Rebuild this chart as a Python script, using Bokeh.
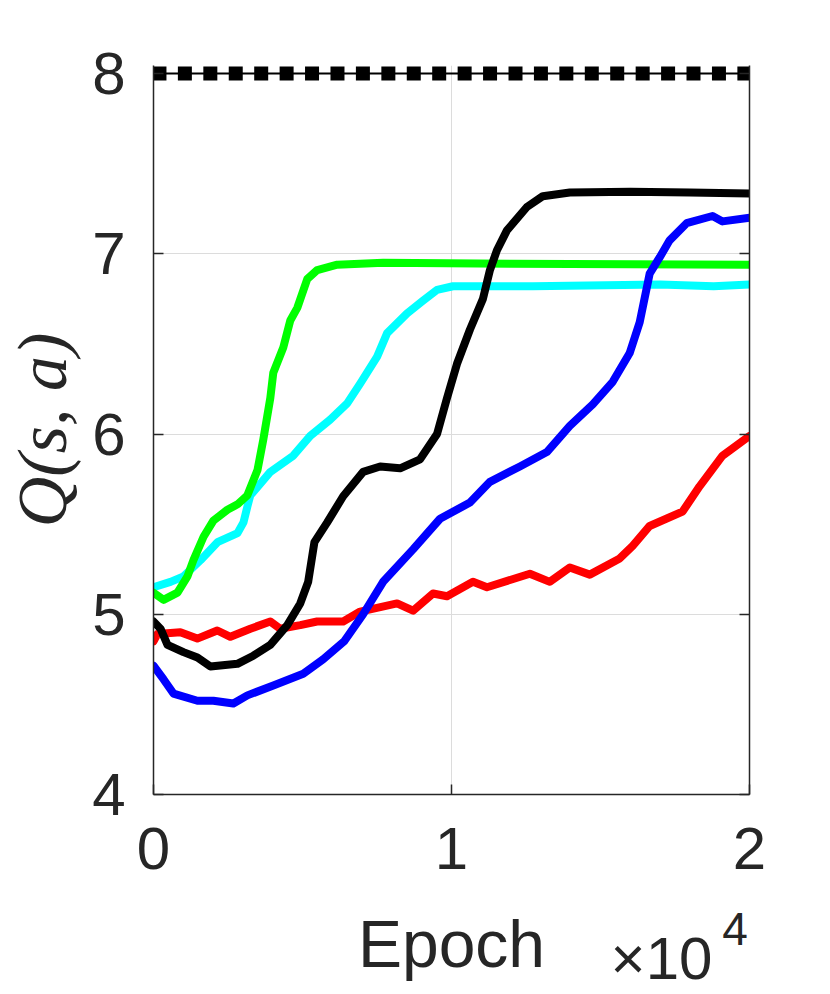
from bokeh.plotting import figure
from bokeh.models import FixedTicker, LinearAxis, Range1d
from bokeh.embed import file_html
from bokeh.resources import INLINE

# ---- data ----
red_x = [0, 130, 900, 1470, 2140, 2580, 3250, 3920, 4250, 4925, 5490, 6365, 6935, 8174, 8710, 9380, 9850,
         10720, 11190, 12630, 13300, 13970, 14640, 15645, 16080, 16650, 17755, 18325, 19095, 20000]
red_y = [4.85, 4.89, 4.90, 4.865, 4.91, 4.875, 4.92, 4.96, 4.92, 4.94, 4.96, 4.96, 5.015, 5.06, 5.02, 5.115, 5.10,
         5.18, 5.15, 5.225, 5.18, 5.26, 5.22, 5.31, 5.38, 5.49, 5.57, 5.71, 5.88, 5.99]

blue_x = [0, 335, 670, 1474, 2010, 2680, 3150, 4020, 5025, 5695, 6400, 7035, 7705, 8710, 9615, 10620, 11290,
          12295, 13200, 13970, 14740, 15410, 15980, 16315, 16650, 16985, 17320, 17890, 18760, 19095, 20000]
blue_y = [4.715, 4.64, 4.56, 4.52, 4.52, 4.505, 4.55, 4.605, 4.67, 4.75, 4.85, 5.00, 5.18, 5.36, 5.53, 5.62, 5.735,
          5.82, 5.90, 6.045, 6.165, 6.29, 6.45, 6.62, 6.89, 6.98, 7.075, 7.17, 7.21, 7.18, 7.20]

black_x = [0, 235, 470, 1005, 1474, 1910, 2815, 3350, 3920, 4490, 4925, 5190, 5400, 5830, 6365, 7035, 7605, 8275,
           8945, 9515, 9850, 10185, 10620, 11055, 11290, 11525, 11860, 12530, 13065, 13970, 16000, 18000, 20000]
black_y = [4.96, 4.92, 4.83, 4.79, 4.76, 4.71, 4.725, 4.77, 4.83, 4.94, 5.06, 5.18, 5.40, 5.51, 5.655, 5.79, 5.82, 5.81,
           5.86, 6.00, 6.20, 6.39, 6.58, 6.75, 6.91, 7.02, 7.13, 7.26, 7.32, 7.34, 7.345, 7.34, 7.335]

cyan_x = [0, 570, 1007, 1577, 2148, 2819, 3020, 3154, 3250, 3920, 4690, 5260, 5930, 6500, 6935, 7505, 7840, 8510,
          9045, 9515, 10050, 12730, 17000, 18800, 20000]
cyan_y = [5.15, 5.18, 5.21, 5.30, 5.40, 5.45, 5.51, 5.60, 5.66, 5.79, 5.88, 5.99, 6.08, 6.17, 6.28, 6.43, 6.56, 6.67,
          6.74, 6.80, 6.82, 6.82, 6.83, 6.82, 6.83]

green_x = [0, 335, 805, 1140, 1340, 1680, 2010, 2480, 2820, 3150, 3490, 3685, 3920, 4020, 4355, 4590, 4825, 5160,
           5495, 6165, 7705, 12000, 20000]
green_y = [5.12, 5.08, 5.12, 5.21, 5.30, 5.43, 5.52, 5.58, 5.61, 5.66, 5.80, 5.97, 6.20, 6.34, 6.48, 6.63, 6.70, 6.86,
           6.91, 6.94, 6.95, 6.945, 6.94]

bound_value = 8
bound_line_x = [0, 20000]
bound_marker_x = [200, 1053, 1907, 2760, 3614, 4467, 5320, 6174, 7027, 7881, 8734, 9587, 10441, 11294,
                  12148, 13001, 13854, 14708, 15561, 16415, 17268, 18121, 18975, 19828]

x_ticks = [0, 10000, 20000]
x_tick_labels = {0: "0", 10000: "1", 20000: "2"}
y_ticks = [4, 5, 6, 7, 8]
x_label = "Epoch"
x_scale_text = "\u00d710"
x_scale_exp = "4"
y_label = "Q(s, a)"

# horizontal anchors (in x units) of the texts under the axis
X_LABEL_AT = 10000
X_SCALE_AT = 17047
X_EXP_AT = 19513

TXT = "#262626"
W, H = 820, 994

p = figure(width=W, height=H, output_backend="svg", toolbar_location=None,
           x_range=Range1d(0, 20000), y_range=Range1d(4, 8.045),
           min_border_left=153, min_border_right=71, min_border_top=65,
           min_border_bottom=H - 795)
p.outline_line_color = None

for ax in (p.xaxis[0], p.yaxis[0]):
    ax.major_tick_in = 10
    ax.major_tick_out = 0
    ax.minor_tick_line_color = None
    ax.axis_line_color = TXT
    ax.axis_line_width = 1.5
    ax.major_tick_line_color = TXT
    ax.major_tick_line_width = 1.5
    ax.major_label_text_font = "Liberation Sans"
    ax.major_label_text_font_size = "60px"
    ax.major_label_text_color = TXT

p.xaxis[0].ticker = FixedTicker(ticks=x_ticks)
p.xaxis[0].major_label_overrides = x_tick_labels
p.xaxis[0].major_label_standoff = 33

p.yaxis[0].ticker = FixedTicker(ticks=y_ticks)
p.yaxis[0].major_label_standoff = 28
p.yaxis[0].axis_label = y_label
p.yaxis[0].axis_label_text_font = "Liberation Serif"
p.yaxis[0].axis_label_text_font_size = "70px"
p.yaxis[0].axis_label_text_font_style = "italic"
p.yaxis[0].axis_label_text_color = TXT
p.yaxis[0].axis_label_standoff = 8

right = LinearAxis(ticker=FixedTicker(ticks=y_ticks),
                   major_label_overrides={t: "" for t in y_ticks},
                   major_tick_in=10, major_tick_out=0, minor_tick_line_color=None,
                   axis_line_color=TXT, axis_line_width=1.5, major_tick_line_color=TXT,
                   major_tick_line_width=1.5, major_label_standoff=0)
p.add_layout(right, "right")


def text_axis(tick, label, size, standoff):
    return LinearAxis(ticker=FixedTicker(ticks=[tick]), major_label_overrides={tick: label},
                      major_label_text_font="Liberation Sans", major_label_text_font_size=size,
                      major_label_text_color=TXT, major_label_standoff=standoff,
                      axis_line_color=None, major_tick_line_color=None, minor_tick_line_color=None,
                      major_tick_in=0, major_tick_out=0)


p.add_layout(text_axis(X_LABEL_AT, x_label, "66px", 35), "below")
p.add_layout(text_axis(X_SCALE_AT, x_scale_text, "60px", -59), "below")
p.add_layout(text_axis(X_EXP_AT, x_scale_exp, "46px", -82), "below")

p.xgrid.ticker = FixedTicker(ticks=x_ticks)
p.ygrid.ticker = FixedTicker(ticks=y_ticks)
p.grid.grid_line_color = "#dcdcdc"
p.grid.grid_line_width = 1

lw = 8
p.line(red_x, red_y, line_color="#ff0000", line_width=lw, line_join="round", line_cap="round")
p.line(cyan_x, cyan_y, line_color="#00ffff", line_width=lw, line_join="round", line_cap="round")
p.line(green_x, green_y, line_color="#00ff00", line_width=lw, line_join="round", line_cap="round")
p.line(blue_x, blue_y, line_color="#0000ff", line_width=lw, line_join="round", line_cap="round")
p.line(black_x, black_y, line_color="#000000", line_width=lw, line_join="round", line_cap="round")

p.line(bound_line_x, [bound_value] * len(bound_line_x), line_color="#000000", line_width=2)
p.scatter(bound_marker_x, [bound_value] * len(bound_marker_x), marker="square", size=14,
          fill_color="#000000", line_color="#000000", line_width=0)

open("out.html", "w").write(file_html(p, INLINE))
